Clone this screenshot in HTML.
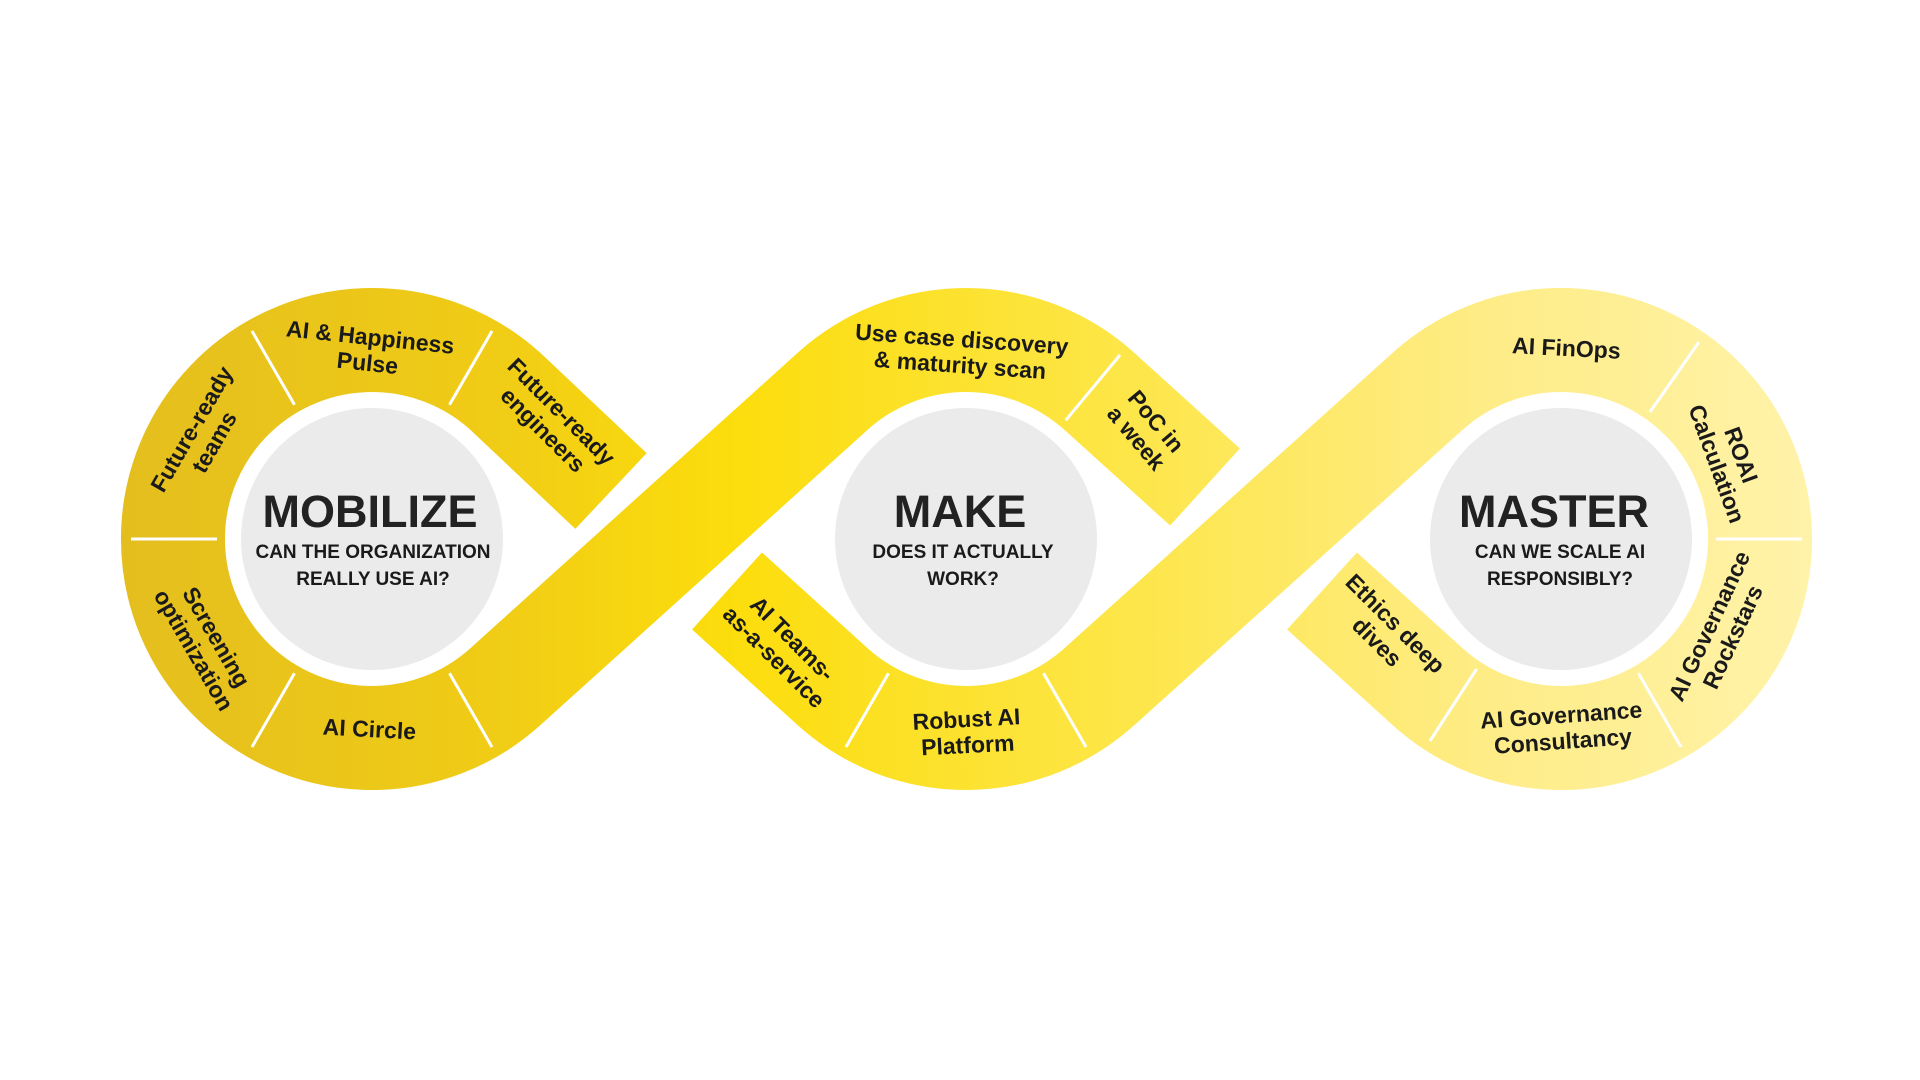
<!DOCTYPE html>
<html><head><meta charset="utf-8"><style>
html,body{margin:0;padding:0;background:#fff;width:1920px;height:1080px;overflow:hidden}
svg{display:block}
.l{font-family:"Liberation Sans",sans-serif;font-weight:bold;font-size:23px;fill:#1a1a1a;text-anchor:middle}
.t{font-family:"Liberation Sans",sans-serif;font-weight:bold;font-size:45px;fill:#222;text-anchor:middle}
.s{font-family:"Liberation Sans",sans-serif;font-weight:bold;font-size:19px;fill:#1a1a1a;text-anchor:middle}
</style></head><body>
<svg width="1920" height="1080" viewBox="0 0 1920 1080">
<defs>
<linearGradient id="g" gradientUnits="userSpaceOnUse" x1="120" y1="0" x2="1815" y2="0">
<stop offset="0" stop-color="#E4BE1E"/>
<stop offset="0.22" stop-color="#F0CC16"/>
<stop offset="0.36" stop-color="#FCDD0C"/>
<stop offset="0.6" stop-color="#FDE64A"/>
<stop offset="0.8" stop-color="#FEEC85"/>
<stop offset="1" stop-color="#FFF3AA"/>
</linearGradient>
</defs>
<g fill="none" stroke="url(#g)" stroke-width="104" stroke-linecap="butt" stroke-linejoin="round">
<path d="M611,491 L505,391 A199,199 0 1 0 505,687 L833,391 A199,199 0 0 1 1099,391 L1205,487"/>
<path d="M727,591 L833,687 A199,199 0 0 0 1099,687 L1428,391 A199,199 0 1 1 1428,687 L1322,591"/>
</g>
<g fill="#EBEBEB">
<circle cx="372" cy="539" r="131"/>
<circle cx="966" cy="539" r="131"/>
<circle cx="1561" cy="539" r="131"/>
</g>
<g stroke="#fff" stroke-width="3">
<line x1="294.5" y1="404.8" x2="252" y2="331"/>
<line x1="449.5" y1="404.8" x2="492" y2="331"/>
<line x1="217" y1="539" x2="131" y2="539"/>
<line x1="294.5" y1="673.2" x2="252" y2="747"/>
<line x1="449.5" y1="673.2" x2="492" y2="747"/>
<line x1="1065.7" y1="420.3" x2="1120" y2="355"/>
<line x1="888.5" y1="673.2" x2="846" y2="747"/>
<line x1="1043.5" y1="673.2" x2="1086" y2="747"/>
<line x1="1650" y1="412" x2="1699" y2="342"/>
<line x1="1716" y1="539" x2="1802" y2="539"/>
<line x1="1638.5" y1="673.2" x2="1681" y2="747"/>
<line x1="1476.6" y1="669" x2="1430" y2="741"/>
</g>
<text class="t" x="370" y="527">MOBILIZE</text>
<text class="s" x="373" y="558">CAN THE ORGANIZATION</text>
<text class="s" x="373" y="585">REALLY USE AI?</text>
<text class="t" x="960" y="527">MAKE</text>
<text class="s" x="963" y="558">DOES IT ACTUALLY</text>
<text class="s" x="963" y="585">WORK?</text>
<text class="t" x="1554" y="527">MASTER</text>
<text class="s" x="1560" y="558">CAN WE SCALE AI</text>
<text class="s" x="1560" y="585">RESPONSIBLY?</text>
<g class="l">
<text transform="translate(369,349) rotate(6)"><tspan x="0" y="-4">AI &amp; Happiness</tspan><tspan x="0" y="22">Pulse</tspan></text>
<text transform="translate(553,420) rotate(45)"><tspan x="0" y="-4">Future-ready</tspan><tspan x="0" y="22">engineers</tspan></text>
<text transform="translate(202,435) rotate(-60)"><tspan x="0" y="-4">Future-ready</tspan><tspan x="0" y="22">teams</tspan></text>
<text transform="translate(206,643) rotate(60)"><tspan x="0" y="-4">Screening</tspan><tspan x="0" y="22">optimization</tspan></text>
<text transform="translate(369,737) rotate(3)"><tspan x="0" y="0">AI Circle</tspan></text>
<text transform="translate(961,351) rotate(4)"><tspan x="0" y="-4">Use case discovery</tspan><tspan x="0" y="22">&amp; maturity scan</tspan></text>
<text transform="translate(1147,429) rotate(50)"><tspan x="0" y="-4">PoC in</tspan><tspan x="0" y="22">a week</tspan></text>
<text transform="translate(784,647) rotate(45)"><tspan x="0" y="-4">AI Teams-</tspan><tspan x="0" y="22">as-a-service</tspan></text>
<text transform="translate(967,731) rotate(-3)"><tspan x="0" y="-4">Robust AI</tspan><tspan x="0" y="22">Platform</tspan></text>
<text transform="translate(1566,356) rotate(3)"><tspan x="0" y="0">AI FinOps</tspan></text>
<text transform="translate(1730,459) rotate(70)"><tspan x="0" y="-4">ROAI</tspan><tspan x="0" y="22">Calculation</tspan></text>
<text transform="translate(1720,631) rotate(-65)"><tspan x="0" y="-4">AI Governance</tspan><tspan x="0" y="22">Rockstars</tspan></text>
<text transform="translate(1562,727) rotate(-4)"><tspan x="0" y="-4">AI Governance</tspan><tspan x="0" y="22">Consultancy</tspan></text>
<text transform="translate(1387,632) rotate(45)"><tspan x="0" y="-4">Ethics deep</tspan><tspan x="0" y="22">dives</tspan></text>
</g>
</svg>
</body></html>
